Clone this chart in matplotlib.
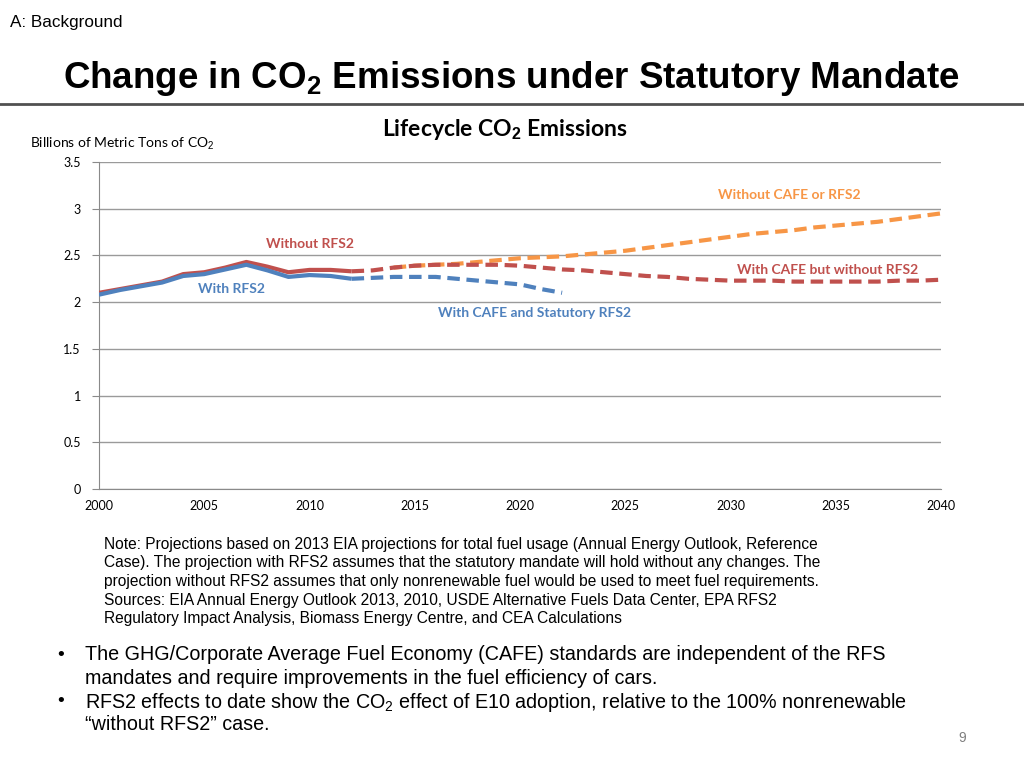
import matplotlib
matplotlib.use("Agg")
import matplotlib.pyplot as plt

plt.rcParams['mathtext.fontset'] = 'custom'
plt.rcParams['mathtext.rm'] = 'Liberation Sans'
plt.rcParams['mathtext.bf'] = 'Liberation Sans:bold'

# ---- data ----
hist_years = list(range(2000, 2013))
without_rfs2 = [2.10, 2.14, 2.18, 2.22, 2.30, 2.32, 2.37, 2.43, 2.38, 2.32, 2.345, 2.345, 2.33]
with_rfs2 = [2.08, 2.13, 2.17, 2.21, 2.28, 2.30, 2.35, 2.40, 2.34, 2.27, 2.29, 2.28, 2.25]

orange_years = list(range(2014, 2041))
without_cafe_or_rfs2 = [2.37, 2.39, 2.40, 2.41, 2.43, 2.45, 2.47, 2.48, 2.49, 2.51, 2.53, 2.55,
                        2.58, 2.61, 2.64, 2.67, 2.70, 2.73, 2.75, 2.77, 2.80, 2.82, 2.84, 2.86,
                        2.89, 2.92, 2.95]

red_proj_years = list(range(2012, 2041))
cafe_without_rfs2 = [2.33, 2.34, 2.37, 2.39, 2.40, 2.40, 2.40, 2.40, 2.39, 2.37, 2.35, 2.34,
                     2.32, 2.30, 2.28, 2.27, 2.25, 2.24, 2.23, 2.23, 2.23, 2.22, 2.22, 2.22,
                     2.22, 2.22, 2.23, 2.23, 2.24]

blue_proj_years = list(range(2012, 2023))
cafe_statutory_rfs2 = [2.25, 2.26, 2.27, 2.27, 2.27, 2.25, 2.23, 2.21, 2.19, 2.14, 2.10]

x_ticks = [2000, 2005, 2010, 2015, 2020, 2025, 2030, 2035, 2040]
y_ticks = [0, 0.5, 1, 1.5, 2, 2.5, 3, 3.5]
y_tick_labels = ['0', '0.5', '1', '1.5', '2', '2.5', '3', '3.5']

RED = '#C0504D'
BLUE = '#4F81BD'
ORANGE = '#F79646'
CHART_FONT = 'Lato'
SLIDE_FONT = 'Liberation Sans'
DASH = (0, (3, 1.6))

fig = plt.figure(figsize=(10.24, 7.68), dpi=100)
ax = fig.add_axes([99 / 1024, 1 - 489 / 768, (941 - 99) / 1024, (489 - 162) / 768])

ax.plot(hist_years, without_rfs2, color=RED, lw=3, solid_capstyle='butt', zorder=3)
ax.plot(hist_years, with_rfs2, color=BLUE, lw=3, solid_capstyle='butt', zorder=4)
ax.plot(orange_years, without_cafe_or_rfs2, color=ORANGE, lw=3, ls=DASH, zorder=3)
ax.plot(red_proj_years, cafe_without_rfs2, color=RED, lw=3, ls=DASH, zorder=3)
ax.plot(blue_proj_years, cafe_statutory_rfs2, color=BLUE, lw=3, ls=DASH, zorder=3)

ax.set_xlim(2000, 2040)
ax.set_ylim(0, 3.5)
ax.set_xticks(x_ticks)
ax.set_xticklabels([str(t) for t in x_ticks], fontfamily=CHART_FONT, fontsize=9)
ax.set_yticks(y_ticks)
ax.set_yticklabels(y_tick_labels, fontfamily=CHART_FONT, fontsize=9)
ax.grid(axis='y', color='#9A9A9A', lw=1)
ax.set_axisbelow(True)
for s in ['top', 'right']:
    ax.spines[s].set_visible(False)
ax.spines['left'].set_color('#8A8A8A')
ax.spines['bottom'].set_color('#8A8A8A')
ax.tick_params(axis='y', length=5, color='#8A8A8A', pad=8)
ax.tick_params(axis='x', length=0, pad=8)

# series labels
lbl = dict(fontsize=10, fontweight='bold', fontfamily=CHART_FONT, ha='center', va='center')
ax.text(2010.0, 2.62, 'Without RFS2', color=RED, **lbl)
ax.text(2006.3, 2.14, 'With RFS2', color=BLUE, **lbl)
ax.text(2032.8, 3.15, 'Without CAFE or RFS2', color=ORANGE, **lbl)
ax.text(2034.6, 2.34, 'With CAFE but without RFS2', color=RED, **lbl)
ax.text(2020.7, 1.88, 'With CAFE and Statutory RFS2', color=BLUE, **lbl)

# slide texts
fig.text(10 / 1024, 1 - 23 / 768, 'A: Background', fontsize=12.3, fontfamily=SLIDE_FONT, va='center')
fig.text(511 / 1024, 1 - 78 / 768, r'Change in CO$_\mathbf{2}$ Emissions under Statutory Mandate',
         fontsize=26.5, fontweight='bold', fontfamily=SLIDE_FONT, ha='center', va='center')
fig.add_artist(plt.Line2D([0, 1], [1 - 104 / 768, 1 - 104 / 768], color='#505050', lw=2))
fig.text(505 / 1024, 1 - 129 / 768, r'Lifecycle CO$_\mathbf{2}$ Emissions', fontsize=16.5, fontweight='bold',
         fontfamily=CHART_FONT, ha='center', va='center')
fig.text(30 / 1024, 1 - 144 / 768, r'Billions of Metric Tons of CO$_2$', fontsize=10, fontfamily=CHART_FONT, va='center')

note_lines = [
    'Note: Projections based on 2013 EIA projections for total fuel usage (Annual Energy Outlook, Reference',
    'Case). The projection with RFS2 assumes that the statutory mandate will hold without any changes. The',
    'projection without RFS2 assumes that only nonrenewable fuel would be used to meet fuel requirements.',
    'Sources: EIA Annual Energy Outlook 2013, 2010, USDE Alternative Fuels Data Center, EPA RFS2',
    'Regulatory Impact Analysis, Biomass Energy Centre, and CEA Calculations',
]
for i, line in enumerate(note_lines):
    fig.text(104 / 1024, 1 - (544 + i * 18.7) / 768, line, fontsize=11.2, fontfamily=SLIDE_FONT, va='center')

bullet_lines = [
    (655, True, 'The GHG/Corporate Average Fuel Economy (CAFE) standards are independent of the RFS'),
    (678, False, 'mandates and require improvements in the fuel efficiency of cars.'),
    (702, True, r'RFS2 effects to date show the CO$_2$ effect of E10 adoption, relative to the 100% nonrenewable'),
    (725, False, '\u201cwithout RFS2\u201d case.'),
]
for y, bullet, txt in bullet_lines:
    if bullet:
        fig.text(57 / 1024, 1 - y / 768, '\u2022', fontsize=14, fontfamily=SLIDE_FONT, va='center')
    fig.text(85 / 1024, 1 - y / 768, txt, fontsize=14.2, fontfamily=SLIDE_FONT, va='center')

fig.text(958 / 1024, 1 - 738 / 768, '9', fontsize=10, color='#808080', fontfamily=SLIDE_FONT, va='center')

fig.savefig('out.png', dpi=100)
